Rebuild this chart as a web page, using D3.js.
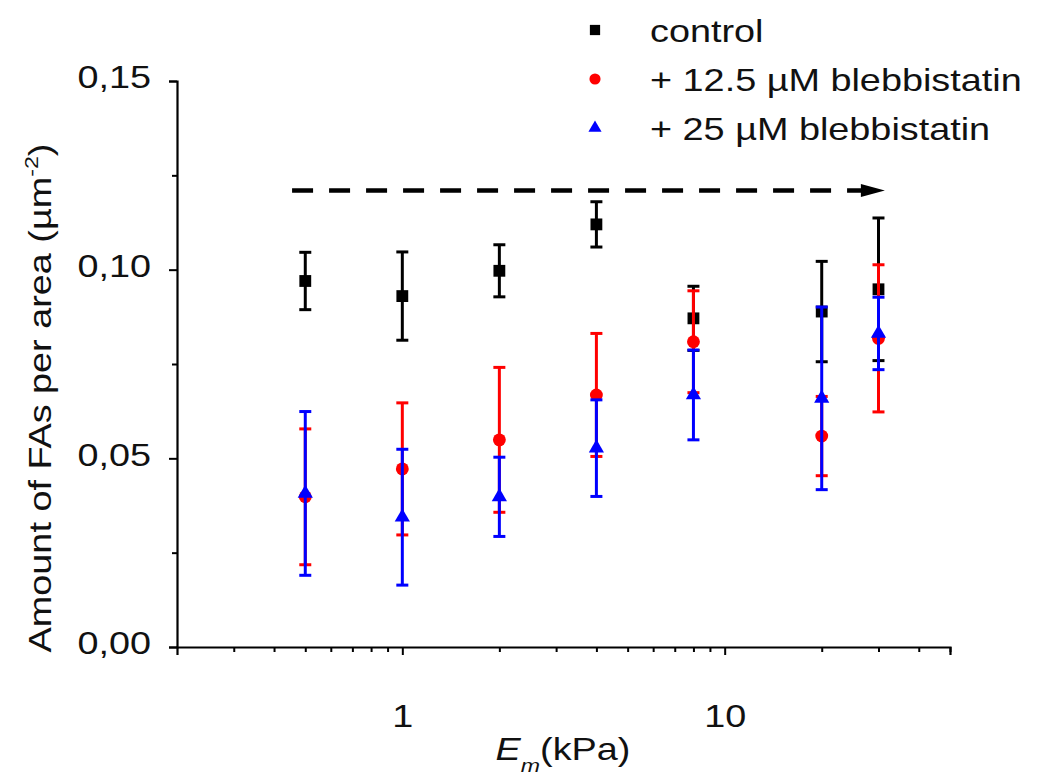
<!DOCTYPE html>
<html>
<head>
<meta charset="utf-8">
<script src="https://cdn.jsdelivr.net/npm/d3@7"></script>
<style>
  html, body { margin: 0; padding: 0; background: #fff; }
  svg { display: block; }
  text { font-family: "Liberation Sans", Arial, sans-serif; fill: #111; }
</style>
</head>
<body>
<svg id="chart" width="1038" height="775"></svg>
<script>
// Substrate stiffness (kPa)
const stiffness = [0.5, 1, 2, 4, 8, 20, 30];

// Focal adhesions per area (µm^-2), mean and error
const controlMean = [0.0970, 0.0930, 0.0997, 0.1120, 0.0871, 0.0889, 0.0948];
const controlErr  = [0.0076, 0.0117, 0.0069, 0.0060, 0.0085, 0.0133, 0.0189];
const bleb12Mean  = [0.0398, 0.0472, 0.0549, 0.0668, 0.0809, 0.0559, 0.0818];
const bleb12Err   = [0.0180, 0.0175, 0.0192, 0.0163, 0.0135, 0.0105, 0.0195];
const bleb25Mean  = [0.0407, 0.0344, 0.0398, 0.0527, 0.0668, 0.0659, 0.0831];
const bleb25Err   = [0.0217, 0.0180, 0.0105, 0.0128, 0.0119, 0.0242, 0.0096];

const seriesNames = ["control", "+ 12.5 \u00b5M blebbistatin", "+ 25 \u00b5M blebbistatin"];
const seriesColors = ["#000000", "#ff0000", "#0000ff"];

// Axis ticks
const yTicks = [0, 0.05, 0.10, 0.15];
const yMinorTicks = [0.025, 0.075, 0.125];
const xMajorTicks = [1, 10];
const xMinorTicks = [0.3, 0.4, 0.5, 0.6, 0.7, 0.8, 0.9, 2, 3, 4, 5, 6, 7, 8, 9, 20, 30, 40, 50];

// Dashed trend arrow (stiffness range and level)
const arrowFrom = 0.455, arrowTo = 31.4, arrowLevel = 0.121;

const svg = d3.select("#chart");
const stretchX = 1.22;   // wide glyph rendering
const fontSize = 31;

const x = d3.scaleLog().domain([0.2, 50]).range([177, 950]);
const y = d3.scaleLinear().domain([0, 0.15]).range([647, 81]);

const commaLocale = d3.formatLocale({ decimal: ",", thousands: ".", grouping: [3], currency: ["", ""] });
const yFmt = commaLocale.format(".2f");

function widen(sel) {
  sel.each(function () {
    const t = d3.select(this);
    const tx = +t.attr("x") || 0, ty = +t.attr("y") || 0;
    const base = t.attr("transform") || "";
    t.attr("x", 0).attr("y", 0)
     .attr("transform", `translate(${tx},${ty}) ${base} scale(${stretchX},1)`);
  });
}

// Y axis
const yAxisMinor = svg.append("g").attr("transform", "translate(177,0)")
  .call(d3.axisLeft(y).tickValues(yMinorTicks).tickSize(5).tickFormat(""));
const yAxis = svg.append("g").attr("transform", "translate(177,0)")
  .call(d3.axisLeft(y).tickValues(yTicks).tickSize(8).tickPadding(18).tickFormat(yFmt));
yAxisMinor.select(".domain").remove();

// X axis
const xAxisMinor = svg.append("g").attr("transform", "translate(0,647)")
  .call(d3.axisBottom(x).tickValues(xMinorTicks).tickSize(5).tickFormat(""));
const xAxis = svg.append("g").attr("transform", "translate(0,647)")
  .call(d3.axisBottom(x).tickValues(xMajorTicks).tickSize(8).tickPadding(50).tickFormat(d3.format("d")));
xAxisMinor.select(".domain").remove();

svg.selectAll(".domain").attr("stroke", "#000").attr("stroke-width", 2.2);
svg.selectAll(".tick line").attr("stroke", "#000").attr("stroke-width", 2);
svg.selectAll(".tick text").attr("font-size", fontSize)
  .attr("font-family", "Liberation Sans, Arial, sans-serif").attr("fill", "#111");
yAxis.selectAll(".tick text").attr("dy", "0.22em");
widen(yAxis.selectAll(".tick text"));
widen(xAxis.selectAll(".tick text"));

// Axis titles
const xTitle = svg.append("text").attr("x", 563).attr("y", 760)
  .attr("text-anchor", "middle").attr("font-size", fontSize);
xTitle.append("tspan").attr("font-style", "italic").text("E");
xTitle.append("tspan").attr("font-style", "italic").attr("font-size", 19).attr("dy", 12).text("m");
xTitle.append("tspan").attr("dy", -12).text("(kPa)");
widen(xTitle);

const yTitle = svg.append("text").attr("x", 51).attr("y", 398)
  .attr("transform", "rotate(-90)")
  .attr("text-anchor", "middle").attr("font-size", fontSize);
yTitle.append("tspan").text("Amount of FAs per area (\u00b5m");
yTitle.append("tspan").attr("font-size", 19).attr("dy", -13).text("-2");
yTitle.append("tspan").attr("dy", 13).text(")");
widen(yTitle);

// Dashed arrow
svg.append("line")
  .attr("x1", x(arrowFrom)).attr("x2", x(arrowTo) - 20)
  .attr("y1", y(arrowLevel)).attr("y2", y(arrowLevel))
  .attr("stroke", "#000").attr("stroke-width", 4.5)
  .attr("stroke-dasharray", "21,16");
svg.append("path")
  .attr("d", (() => {
    const ax = x(arrowTo), ay = y(arrowLevel);
    return `M${ax - 24},${ay - 2.2} L${ax - 24},${ay - 6.5} L${ax},${ay} L${ax - 24},${ay + 6.5} L${ax - 24},${ay + 2.2} Z`;
  })())
  .attr("fill", "#000");

// Series
const series = [
  { mean: controlMean, err: controlErr, shape: d3.symbolSquare, size: 140 },
  { mean: bleb12Mean,  err: bleb12Err,  shape: d3.symbolCircle, size: 130 },
  { mean: bleb25Mean,  err: bleb25Err,  shape: d3.symbolTriangle, size: 100 }
];

series.forEach((s, i) => {
  const color = seriesColors[i];
  const pts = stiffness.map((k, j) => ({ k, m: s.mean[j], e: s.err[j] }));
  const g = svg.append("g");
  const bars = g.selectAll("g.err").data(pts).join("g").attr("class", "err")
    .attr("stroke", color).attr("stroke-width", 3);
  bars.append("line")
    .attr("x1", d => x(d.k)).attr("x2", d => x(d.k))
    .attr("y1", d => y(d.m - d.e)).attr("y2", d => y(d.m + d.e));
  bars.append("line")
    .attr("x1", d => x(d.k) - 6).attr("x2", d => x(d.k) + 6)
    .attr("y1", d => y(d.m + d.e)).attr("y2", d => y(d.m + d.e));
  bars.append("line")
    .attr("x1", d => x(d.k) - 6).attr("x2", d => x(d.k) + 6)
    .attr("y1", d => y(d.m - d.e)).attr("y2", d => y(d.m - d.e));
  g.selectAll("path.pt").data(pts).join("path").attr("class", "pt")
    .attr("d", d3.symbol().type(s.shape).size(s.size))
    .attr("transform", d => `translate(${x(d.k)},${y(d.m)})`)
    .attr("fill", color);
});

// Legend
const legendRows = [30, 79, 128];
series.forEach((s, i) => {
  svg.append("path")
    .attr("d", d3.symbol().type(s.shape).size(s.size * 0.75))
    .attr("transform", `translate(595,${legendRows[i]})`)
    .attr("fill", seriesColors[i]);
  const t = svg.append("text").attr("x", 650).attr("y", legendRows[i] + 12)
    .attr("font-size", fontSize).text(seriesNames[i]);
  widen(t);
});
</script>
</body>
</html>
